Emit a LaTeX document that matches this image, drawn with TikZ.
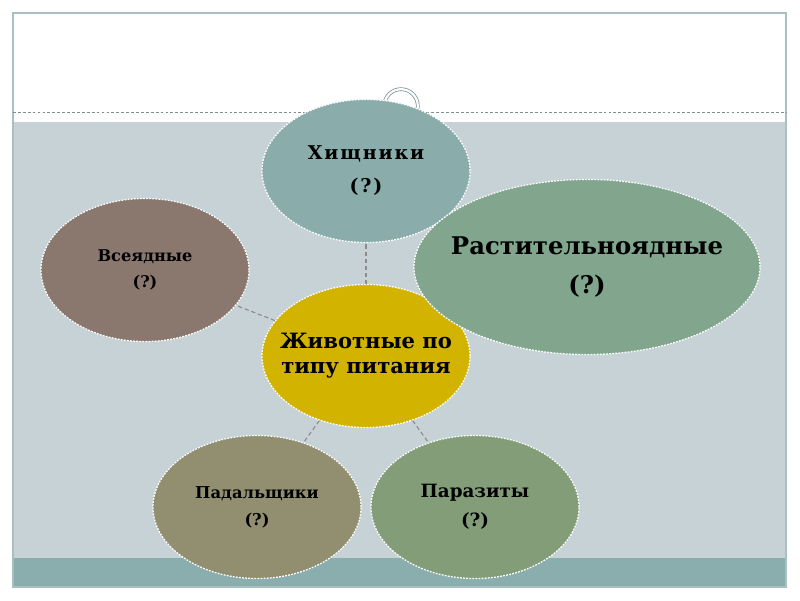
\documentclass[tikz,border=0pt]{standalone}
\usepackage{fontspec}
\setmainfont{DejaVu Serif}
\usepackage{tikz}
\usetikzlibrary{shapes.geometric,calc,positioning}
\definecolor{bgGrey}{HTML}{C7D2D7}
\definecolor{bandTeal}{HTML}{8AADAD}
\definecolor{frameTeal}{HTML}{A9C0C0}
\definecolor{lineGrey}{HTML}{7F8F8F}
\definecolor{linkGrey}{HTML}{8C8C8C}
\definecolor{huntCol}{HTML}{8AACAB}
\definecolor{herbCol}{HTML}{81A68D}
\definecolor{omniCol}{HTML}{8A786E}
\definecolor{mainCol}{HTML}{D2B300}
\definecolor{carrCol}{HTML}{928F70}
\definecolor{paraCol}{HTML}{849D79}

\begin{document}
\begin{tikzpicture}[x=0.025cm, y=-0.025cm]
	\tikzstyle{every node} = [ellipse, draw = white, dash pattern = on 1.3pt off 0.9pt, line width = 0.9pt, align = center, inner xsep = -40pt, inner ysep = -10pt, minimum width = 5.2cm, minimum height = 3.575cm]
	\tikzstyle{link} = [draw = linkGrey, dash pattern = on 3pt off 2pt, line width = 0.8pt]
	\useasboundingbox (0,0) rectangle (800,600);
	% slide
	\fill[white] (0,0) rectangle (800,600);
	\fill[bgGrey] (13,122) rectangle (786,558);
	\fill[bandTeal] (13,558) rectangle (786,587);
	\draw[frameTeal, line width = 1.2pt] (13,13) rectangle (786,587);
	\draw[lineGrey, dash pattern = on 2pt off 1.5pt, line width = 0.6pt] (13,112) -- (786,112);
	\draw[bandTeal!80!black, line width = 0.5pt, double = white, double distance = 1.6pt, fill = white] (401,106) circle [radius = 0.42cm];

\node[fill = huntCol, font = \fontsize{13.5}{23.5}\selectfont\bfseries\addfontfeature{LetterSpace=10}] (1) at (366,171) {Хищники\\(?)};
\node[fill = omniCol, font = \fontsize{11.5}{18.5}\selectfont\bfseries] (2) at (145,270) {Всеядные\\(?)};
\node[fill = mainCol, font = \fontsize{15}{17.8}\selectfont\bfseries] (0) at (366,356) {Животные по\\типу питания};
\node[fill = herbCol, minimum width = 8.65cm, minimum height = 4.375cm, font = \fontsize{17.3}{27.7}\selectfont\bfseries] (3) at (587,267) {Растительноядные\\(?)};
\node[fill = carrCol, font = \fontsize{11.6}{19.2}\selectfont\bfseries] (4) at (257,507) {Падальщики\\(?)};
\node[fill = paraCol, font = \fontsize{13}{20.6}\selectfont\bfseries] (5) at (475,507) {Паразиты\\(?)};
	\path[link] (0) -- (1);
	\path[link] (0) -- (2);
	\path[link] (0) -- (4);
	\path[link] (0) -- (5);
\end{tikzpicture}
\end{document}
